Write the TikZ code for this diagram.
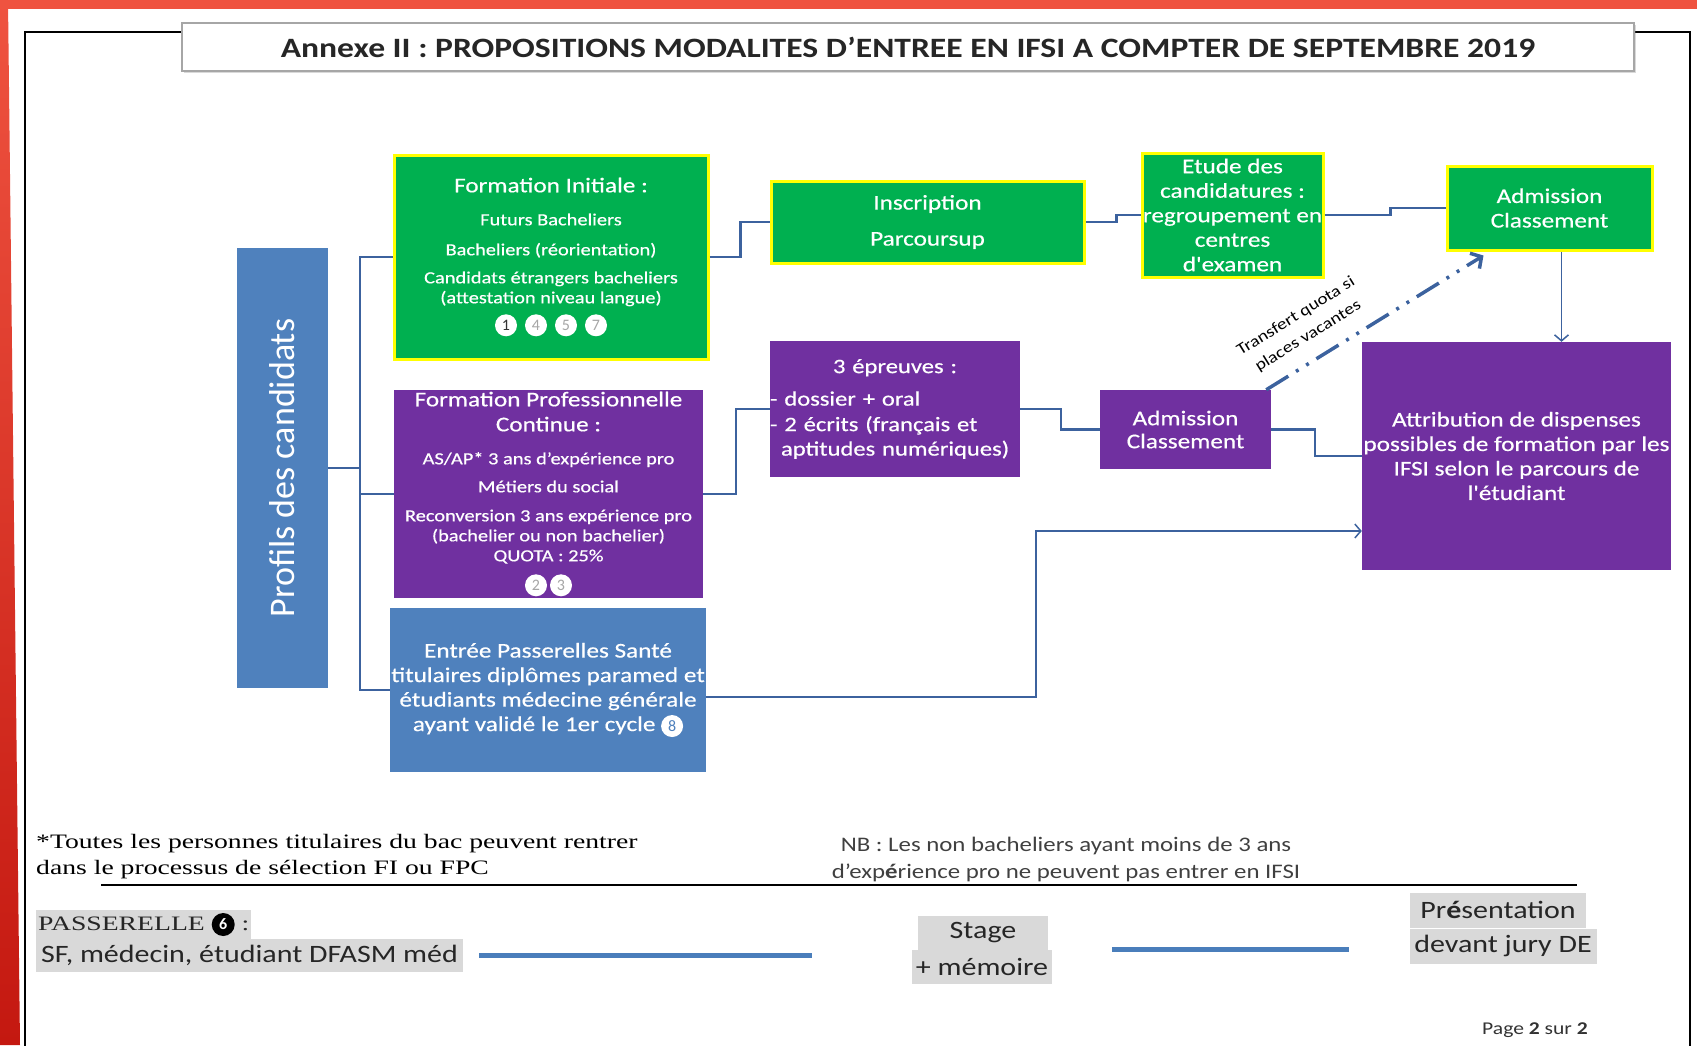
\documentclass[tikz,border=0pt]{standalone}
\usepackage{fontspec}
\setmainfont{Carlito}[FakeStretch=1.2]
\newfontfamily\caliplain{Carlito}
\newfontfamily\caligras{Carlito}[FakeStretch=1.2, FakeBold=0.5]
\newfontfamily\cambre{Liberation Serif}[FakeStretch=1.35]
\usetikzlibrary{arrows.meta,shadows}
\definecolor{vertfi}{RGB}{0,176,80}
\definecolor{jaunebord}{RGB}{255,255,0}
\definecolor{violetfpc}{RGB}{112,48,160}
\definecolor{bleups}{RGB}{79,129,189}
\definecolor{trait}{RGB}{60,98,158}
\definecolor{traitb}{RGB}{74,126,187}
\definecolor{rougecadre}{RGB}{239,83,64}
\definecolor{rougefonce}{RGB}{196,24,16}
\definecolor{grisfond}{RGB}{217,217,217}
\newcommand\pastille[2][gray!70]{\tikz[baseline=-5pt]\node[shape=circle,
  fill=white, draw=none, anchor=center, inner sep=0pt, outer sep=0pt,
  minimum width=22pt, minimum height=22pt, text=#1,
  font=\caliplain\fontsize{16}{16}\selectfont]{#2};}
\newcommand\pastillenoire[1]{\tikz[baseline=-6pt]\node[shape=circle,
  fill=black, draw=none, anchor=center, inner sep=0pt, outer sep=0pt,
  minimum width=23pt, minimum height=23pt, text=white,
  font=\caliplain\bfseries\fontsize{16}{16}\selectfont]{#1};}
\tikzset{
  boite/.style = {rectangle, align=center, inner sep=1pt, text=white,
    font=\caligras\fontsize{21}{24.5}\selectfont},
  boite_v/.style = {boite, fill=vertfi, draw=jaunebord, line width=3pt},% parcours FI, vert
  boite_p/.style = {boite, fill=violetfpc},% parcours FPC, violet
  boite_b/.style = {boite, fill=bleups},% profils et passerelles, bleu
  lien/.style = {draw=trait, line width=2.5pt},% liaison entre boites
  fleche/.style = {draw=trait, line width=1.5pt,
    -{Straight Barb[length=6pt,width=14pt]}},% liaison avec pointe
  transfert/.style = {draw=trait, line width=3.5pt,
    dash pattern=on 26pt off 9pt on 3pt off 9pt on 3pt off 9pt,
    -{Straight Barb[length=8pt,width=18pt]}},% transfert de quota
  trait_b/.style = {draw=traitb, line width=5pt},% frise passerelle
  surligne/.style = {fill=grisfond, inner sep=1pt, text=black!85}% texte surligne
}

\begin{document}
\begin{tikzpicture}[x=1pt,y=-1pt]
    \useasboundingbox (0,0) rectangle (1697,1045);
    % cadre de page
    \fill[rougecadre] (0,0) rectangle (1697,9);
    \shade[top color=rougecadre, bottom color=rougefonce]
        (0,0) -- (8,0) -- (20,1045) -- (0,1045) -- cycle;
    \draw[line width=2pt] (25,1046) -- (25,32) -- (1690,32) -- (1690,1046);
    \node[draw=gray!70, line width=1.5pt, fill=white, minimum width=1452pt,
        minimum height=48pt, drop shadow={opacity=0.3},
        font=\bfseries\fontsize{28}{30}\selectfont, text=black!85] (titre) at (908,47)
        {Annexe II : PROPOSITIONS MODALITES D’ENTREE EN IFSI A COMPTER DE SEPTEMBRE 2019};

    % profils
    \node[boite_b, minimum width=91pt, minimum height=440pt] (profils) at (282.5,468)
        {\rotatebox{90}{\caliplain\fontsize{36}{40}\selectfont Profils des candidats}};
    \node[boite_v, minimum width=314pt, minimum height=204pt,
        font=\caligras\fontsize{17}{20}\selectfont] (fi) at (551,257)
        {{\fontsize{21}{20}\selectfont Formation Initiale :}\\[13pt]
         Futurs Bacheliers\\[10pt]
         Bacheliers (réorientation)\\[8pt]
         Candidats étrangers bacheliers\\
         (attestation niveau langue)\\[7pt]
         \pastille[black!80]{1}\hspace{8pt}\pastille{4}\hspace{8pt}\pastille{5}\hspace{8pt}\pastille{7}};
    \node[boite_p, minimum width=309pt, minimum height=208pt,
        font=\caligras\fontsize{17}{20}\selectfont] (fpc) at (548.5,494)
        {{\fontsize{21}{20}\selectfont Formation Professionnelle}\\[5pt]
         {\fontsize{21}{20}\selectfont Continue :}\\[13pt]
         AS/AP* 3 ans d’expérience pro\\[8pt]
         Métiers du social\\[9pt]
         Reconversion 3 ans expérience pro\\
         (bachelier ou non bachelier)\\
         QUOTA : 25\%\\[9pt]
         \pastille{2}\hspace{3pt}\pastille{3}};
    \node[boite_b, minimum width=316pt, minimum height=164pt,
        font=\caligras\fontsize{21}{24.5}\selectfont] (pass) at (548,690)
        {Entrée Passerelles Santé\\
         titulaires diplômes paramed et\\
         étudiants médecine générale\\
         ayant validé le 1er cycle \pastille[bleups]{8}};

    % suite des parcours
    \node[boite_v, minimum width=313pt, minimum height=82pt] (insc) at (927.5,222)
        {Inscription\\[11.5pt] Parcoursup};
    \node[boite_v, minimum width=181pt, minimum height=124pt, inner sep=0pt] (etude) at (1232.5,215)
        {Etude des\\ candidatures :\\ regroupement en\\ centres\\ d'examen};
    \node[boite_v, minimum width=205pt, minimum height=84pt] (admv) at (1549.5,208)
        {Admission\\ Classement};
    \node[boite_p, minimum height=136pt, text width=250pt, align=left, inner sep=0pt,
        font=\caligras\fontsize{20.5}{24.5}\selectfont] (ep) at (895,409)
        {\makebox[250pt]{3 épreuves :}\\[8pt]
         - dossier + oral\\[1pt]
         - 2 écrits (français et\\
         \hspace*{11pt}aptitudes numériques)};
    \node[boite_p, minimum width=171pt, minimum height=79pt] (admp) at (1185.5,429.5)
        {Admission\\[-1.5pt] Classement};
    \node[boite_p, minimum width=309pt, minimum height=228pt] (attr) at (1516.5,456)
        {Attribution de dispenses\\
         possibles de formation par les\\
         IFSI selon le parcours de\\
         l'étudiant};

    % liaisons
    \draw[lien] (profils.east) -- ++(32,0) coordinate (br);
    \draw[lien] (fi.west) -| (br) |- (pass.west);
    \draw[lien] (fpc.west) -- (fpc.west -| br);
    \draw[lien] (fi.east) -- ++(31,0) |- (insc.west);
    \draw[lien] (insc.east) -- ++(31,0) |- (etude.west);
    \draw[lien] (etude.east) -- ++(66,0) |- (admv.west);
    \draw[fleche] ([xshift=12pt]admv.south) -- ([xshift=12pt]admv.south |- attr.north);
    \draw[lien] (fpc.east) -- ++(33,0) |- (ep.west);
    \draw[lien] (ep.east) -- ++(41,0) |- (admp.west);
    \draw[lien] (admp.east) -- ++(44,0) |- (attr.west);
    \draw[fleche] ([yshift=-7pt]pass.east) -- ++(330,0) |- ([yshift=-75pt]attr.west);
    \draw[transfert] ([xshift=-5pt]admp.north east) -- ([shift={(38pt,-4pt)}]admv.south west)
        node[pos=0.25, sloped, above=15pt, align=center, inner sep=0pt, text=black,
            font=\fontsize{16}{23}\selectfont] (transf) {Transfert quota si\\ places vacantes};

    % notes de bas de page
    \node[anchor=west, inner sep=0pt, align=left,
        font=\cambre\fontsize{20.5}{26}\selectfont] (note) at (36,857)
        {*Toutes les personnes titulaires du bac peuvent rentrer\\
         dans le processus de sélection FI ou FPC};
    \node[inner sep=0pt, align=center, text=black!75,
        font=\fontsize{20.7}{27}\selectfont] (nb) at (1066,859)
        {NB : Les non bacheliers ayant moins de 3 ans\\
         d’exp\textbf{é}rience pro ne peuvent pas entrer en IFSI};
    \draw[line width=1.5pt] (101,885) -- (1577,885);

    % passerelle
    \node[surligne, anchor=west, minimum height=29pt, inner xsep=2pt,
        font=\cambre\fontsize{20.5}{24}\selectfont] (passtitre) at (36,924.5)
        {PASSERELLE \pastillenoire{6} :};
    \node[surligne, anchor=west, minimum height=33pt, inner xsep=5pt,
        font=\fontsize{25}{28}\selectfont] (sf) at (36,955.5)
        {SF, médecin, étudiant DFASM méd};
    \node[surligne, minimum width=130pt, minimum height=35pt,
        font=\fontsize{25}{28}\selectfont] (stage) at (983,933) {Stage};
    \node[surligne, minimum width=140pt, minimum height=34pt,
        font=\fontsize{25}{28}\selectfont] (memoire) at (982,967) {+ mémoire};
    \node[surligne, minimum width=176pt, minimum height=35pt,
        font=\fontsize{25}{28}\selectfont] (pres) at (1498,910) {Pr\textbf{é}sentation};
    \node[surligne, minimum width=187pt, minimum height=35pt,
        font=\fontsize{25}{28}\selectfont] (jury) at (1503,946) {devant jury DE};
    \draw[trait_b] ([xshift=16pt]sf.east) -- ++(333,0);
    \draw[trait_b] ([shift={(64pt,-16pt)}]stage.east) -- ++(237,0);

    \node[text=black!80, font=\fontsize{18}{20}\selectfont] (page) at (1535,1030)
        {Page \textbf{2} sur \textbf{2}};
\end{tikzpicture}
\end{document}
